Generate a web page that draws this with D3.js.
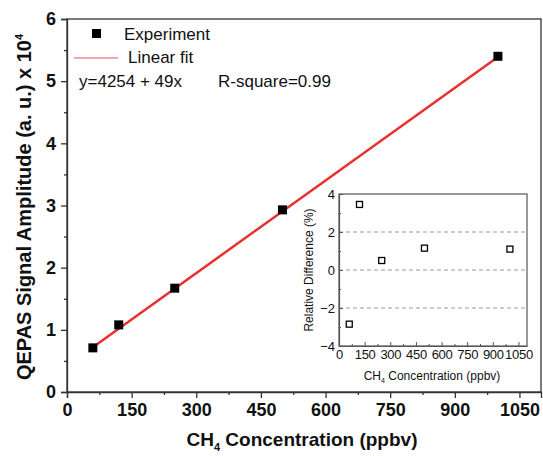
<!DOCTYPE html>
<html>
<head>
<meta charset="utf-8">
<script src="https://cdn.jsdelivr.net/npm/d3@7"></script>
<style>
  body { margin: 0; background: #fff; }
  text { font-family: Arial, "Liberation Sans", sans-serif; }
</style>
</head>
<body>
<div id="chart"></div>
<script>
// Calibration data (x in ppbv, amplitude in units of 10^4)
const concentration = [60, 120, 250, 500, 1000];
const amplitude = [0.71, 1.08, 1.67, 2.93, 5.40];
// linear fit endpoints
const fitX = [60, 1000];
const fitY = [0.72, 5.39];
// relative difference of each point (%)
const relDiff = [-2.85, 3.45, 0.5, 1.15, 1.1];

const xTicks = [0, 150, 300, 450, 600, 750, 900, 1050];
const yTicks = [0, 1, 2, 3, 4, 5, 6];
const insetYTicks = [-4, -2, 0, 2, 4];
const insetGrid = [-2, 0, 2];

const width = 543, height = 456;
const svg = d3.select('#chart').append('svg')
  .attr('width', width)
  .attr('height', height);

// main plot
const m = { left: 67, right: 541, top: 19, bottom: 392 };
const x = d3.scaleLinear().domain([0, 1100]).range([m.left, m.right]);
const y = d3.scaleLinear().domain([0, 6]).range([m.bottom, m.top]);

// frame
svg.append('rect')
  .attr('x', m.left).attr('y', m.top)
  .attr('width', m.right - m.left).attr('height', m.bottom - m.top)
  .attr('fill', 'none').attr('stroke', '#333').attr('stroke-width', 1.3);

// x axis with minor ticks
const xAxis = svg.append('g')
  .attr('transform', `translate(0,${m.bottom})`)
  .call(d3.axisBottom(x).tickValues(xTicks).tickSize(6).tickPadding(5).tickFormat(d3.format('d')));
svg.append('g')
  .attr('transform', `translate(0,${m.bottom})`)
  .call(d3.axisBottom(x).tickValues(xTicks.map(d => d + 75).filter(d => d < 1100)).tickSize(3).tickFormat(''))
  .call(g => g.select('.domain').remove());

const yAxis = svg.append('g')
  .attr('transform', `translate(${m.left},0)`)
  .call(d3.axisLeft(y).tickValues(yTicks).tickSize(6).tickPadding(5).tickFormat(d3.format('d')));
svg.append('g')
  .attr('transform', `translate(${m.left},0)`)
  .call(d3.axisLeft(y).tickValues(yTicks.slice(0, -1).map(d => d + 0.5)).tickSize(3).tickFormat(''))
  .call(g => g.select('.domain').remove());

svg.selectAll('.tick line').attr('stroke', '#333').attr('stroke-width', 1.3);
svg.selectAll('.domain').attr('stroke', '#333').attr('stroke-width', 1.3);
xAxis.selectAll('text').attr('font-size', 18).attr('font-weight', 'bold').attr('fill', '#111');
yAxis.selectAll('text').attr('font-size', 18).attr('font-weight', 'bold').attr('fill', '#111');

// fit line
svg.append('line')
  .attr('x1', x(fitX[0])).attr('y1', y(fitY[0]))
  .attr('x2', x(fitX[1])).attr('y2', y(fitY[1]))
  .attr('stroke', '#e8302e').attr('stroke-width', 2.5);

// experiment points
svg.selectAll('.pt')
  .data(concentration)
  .enter().append('rect')
  .attr('class', 'pt')
  .attr('x', (d, i) => x(d) - 4.5)
  .attr('y', (d, i) => y(amplitude[i]) - 4.5)
  .attr('width', 9).attr('height', 9)
  .attr('fill', '#000');

// axis titles
svg.append('text')
  .attr('x', 302).attr('y', 446)
  .attr('text-anchor', 'middle')
  .attr('font-size', 19).attr('font-weight', 'bold').attr('fill', '#111')
  .html('CH<tspan font-size="11" dy="5">4</tspan><tspan dy="-5"> Concentration (ppbv)</tspan>');

svg.append('text')
  .attr('transform', 'translate(31,207) rotate(-90)')
  .attr('text-anchor', 'middle')
  .attr('font-size', 20).attr('font-weight', 'bold').attr('fill', '#111')
  .html('QEPAS Signal Amplitude (a. u.) x 10<tspan font-size="11" dy="-8">4</tspan>');

// legend
svg.append('rect').attr('x', 92).attr('y', 29).attr('width', 9).attr('height', 9).attr('fill', '#000');
svg.append('text').attr('x', 124).attr('y', 40).attr('font-size', 17).attr('fill', '#111').text('Experiment');
svg.append('line').attr('x1', 74).attr('x2', 118).attr('y1', 58).attr('y2', 58)
  .attr('stroke', '#f08a94').attr('stroke-width', 1.5);
svg.append('text').attr('x', 128).attr('y', 63).attr('font-size', 17).attr('fill', '#111').text('Linear fit');
svg.append('text').attr('x', 79).attr('y', 87).attr('font-size', 17).attr('fill', '#111').text('y=4254 + 49x');
svg.append('text').attr('x', 218).attr('y', 87).attr('font-size', 17).attr('fill', '#111').text('R-square=0.99');

// inset
const n = { left: 339, right: 527, top: 194, bottom: 346 };
const ix = d3.scaleLinear().domain([0, 1100]).range([n.left, n.right]);
const iy = d3.scaleLinear().domain([-4, 4]).range([n.bottom, n.top]);

const inset = svg.append('g');
inset.selectAll('.grid')
  .data(insetGrid)
  .enter().append('line')
  .attr('x1', n.left).attr('x2', n.right)
  .attr('y1', d => iy(d)).attr('y2', d => iy(d))
  .attr('stroke', '#999').attr('stroke-width', 1).attr('stroke-dasharray', '4,3');

inset.append('rect')
  .attr('x', n.left).attr('y', n.top)
  .attr('width', n.right - n.left).attr('height', n.bottom - n.top)
  .attr('fill', 'none').attr('stroke', '#555').attr('stroke-width', 1.2);

const ixAxis = inset.append('g')
  .attr('transform', `translate(0,${n.bottom})`)
  .call(d3.axisBottom(ix).tickValues(xTicks).tickSizeInner(-4).tickSizeOuter(0).tickPadding(4).tickFormat(d3.format('d')));
inset.append('g')
  .attr('transform', `translate(0,${n.bottom})`)
  .call(d3.axisBottom(ix).tickValues(xTicks.map(d => d + 75).filter(d => d < 1100)).tickSizeInner(-2).tickSizeOuter(0).tickFormat(''))
  .call(g => g.select('.domain').remove());
const iyAxis = inset.append('g')
  .attr('transform', `translate(${n.left},0)`)
  .call(d3.axisLeft(iy).tickValues(insetYTicks).tickSizeInner(-4).tickSizeOuter(0).tickPadding(4));
inset.append('g')
  .attr('transform', `translate(${n.left},0)`)
  .call(d3.axisLeft(iy).tickValues([-3, -1, 1, 3]).tickSizeInner(-2).tickSizeOuter(0).tickFormat(''))
  .call(g => g.select('.domain').remove());

inset.selectAll('.tick line').attr('stroke', '#555');
inset.selectAll('.domain').attr('stroke', '#555').attr('stroke-width', 1.2);
ixAxis.selectAll('text').attr('font-size', 13).attr('letter-spacing', -0.3).attr('fill', '#111');
iyAxis.selectAll('text').attr('font-size', 13).attr('fill', '#111');

inset.selectAll('.ipt')
  .data(concentration)
  .enter().append('rect')
  .attr('class', 'ipt')
  .attr('x', d => ix(d) - 3)
  .attr('y', (d, i) => iy(relDiff[i]) - 3)
  .attr('width', 6).attr('height', 6)
  .attr('fill', '#fff').attr('stroke', '#000').attr('stroke-width', 1.3);

inset.append('text')
  .attr('x', 432).attr('y', 380)
  .attr('text-anchor', 'middle')
  .attr('font-size', 12).attr('fill', '#111')
  .html('CH<tspan font-size="7" dy="3">4</tspan><tspan dy="-3"> Concentration (ppbv)</tspan>');
inset.append('text')
  .attr('transform', 'translate(313,270) rotate(-90)')
  .attr('text-anchor', 'middle')
  .attr('font-size', 12).attr('fill', '#111')
  .text('Relative Difference (%)');
</script>
</body>
</html>
